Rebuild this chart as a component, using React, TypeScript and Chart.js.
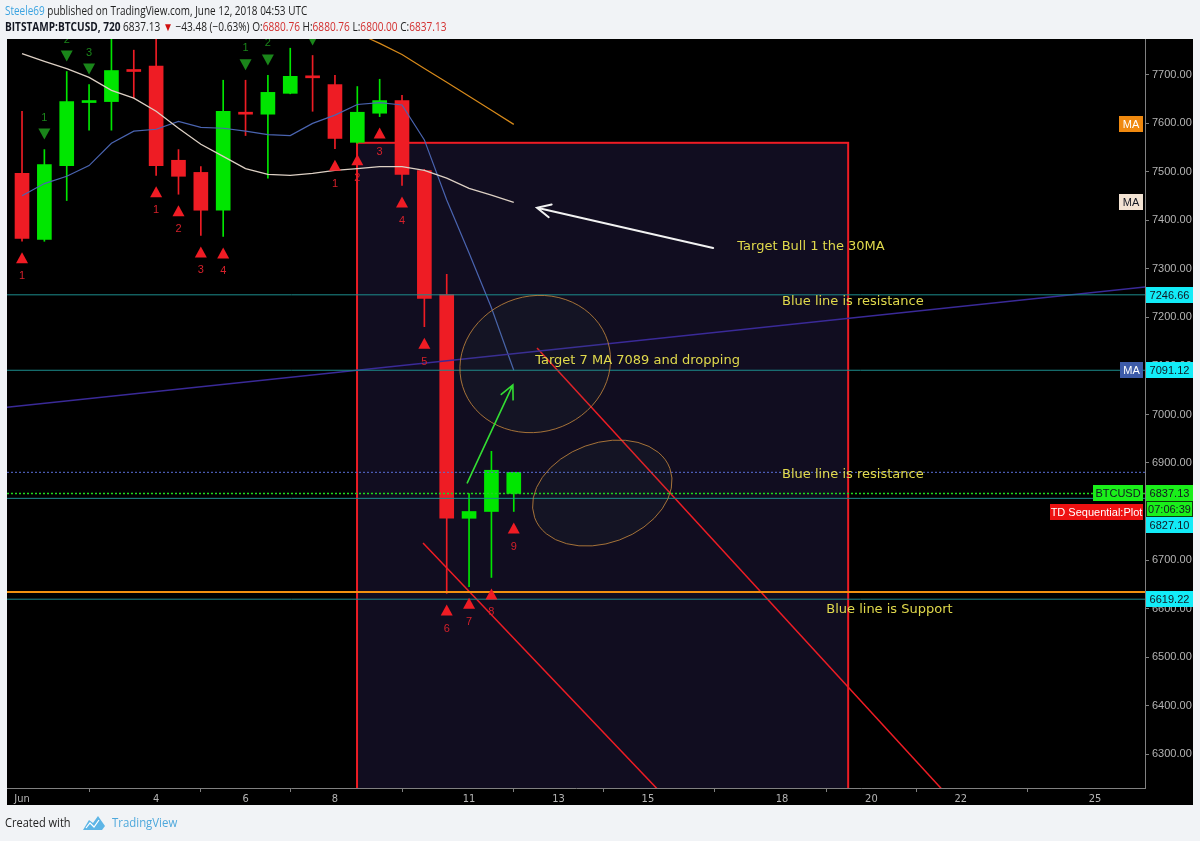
import React, { useEffect, useRef } from 'react';
import { Chart, registerables } from 'chart.js';

Chart.register(...registerables);

// ---- Data ----
const candleDays = [1, 1.5, 2, 2.5, 3, 3.5, 4, 4.5, 5, 5.5, 6, 6.5, 7, 7.5, 8, 8.5, 9, 9.5, 10, 10.5, 11, 11.5, 12];
const opens = [7497, 7361, 7513, 7643, 7645, 7709, 7718, 7524, 7499, 7421, 7621, 7619, 7662, 7696, 7680, 7561, 7621, 7647, 7503, 7247, 6786, 6800, 6880.76];
const highs = [7625, 7546, 7707, 7680, 7790, 7751, 7790, 7546, 7511, 7689, 7689, 7699, 7755, 7740, 7699, 7676, 7691, 7658, 7505, 7289, 6837, 6924, 6880.76];
const lows = [7357, 7357, 7441, 7586, 7586, 7652, 7493, 7454, 7369, 7367, 7575, 7487, 7661, 7625, 7548, 7559, 7614, 7472, 7181, 6631, 6645, 6664, 6800];
const closes = [7363, 7515, 7645, 7646, 7709, 7707, 7513, 7491, 7421, 7625, 7619, 7664, 7697, 7694, 7569, 7623, 7647, 7495, 7239, 6786, 6800, 6885, 6837.13];
const candleUp = [false, true, true, true, true, false, false, false, false, true, false, true, true, false, false, true, true, false, false, false, true, true, true];

const ma30 = [7744, 7728, 7713, 7695, 7668, 7652, 7625, 7590, 7557, 7532, 7507, 7495, 7493, 7497, 7503, 7507, 7511, 7511, 7503, 7487, 7466, 7452, 7437];
const ma7 = [7451, 7476, 7491, 7513, 7559, 7584, 7588, 7604, 7592, 7590, 7584, 7577, 7575, 7600, 7617, 7639, 7643, 7638, 7566, 7442, 7333, 7220, 7091.12];
const maLong = [null, null, null, null, null, null, null, null, null, null, null, null, null, null, 7812, 7786, 7765, 7742, 7713, 7685, 7656, 7627, 7598];

const buySetupIndex = [0, 6, 7, 8, 9, 14, 15, 16, 17, 18, 19, 20, 21, 22];
const buySetupCount = [1, 1, 2, 3, 4, 1, 2, 3, 4, 5, 6, 7, 8, 9];
const sellSetupIndex = [1, 2, 3, 4, 10, 11, 13];
const sellSetupCount = [1, 2, 3, 4, 1, 2, 3];

const xTickDays = [1, 4, 6, 8, 11, 13, 15, 18, 20, 22, 25];
const xTickLabels = ['Jun', '4', '6', '8', '11', '13', '15', '18', '20', '22', '25'];
const yTickValues = [6300, 6400, 6500, 6600, 6700, 6800, 6900, 7000, 7100, 7200, 7300, 7400, 7500, 7600, 7700];

const X_MIN = 0.664;
const X_MAX = 26.12;
const Y_MIN = 6230;
const Y_MAX = 7774;

const tealLevels = [7246.66, 7091.12, 6827.1, 6619.22];
const highLevel = 6880.76;
const lastPrice = 6837.13;
const supportLevel = 6634;

const trendDays = [0.664, 26.12];
const trendValues = [7015, 7263];
const channel1Days = [9.97, 15.5];
const channel1Values = [6735, 6200];
const channel2Days = [12.52, 21.85];
const channel2Values = [7137, 6200];

const boxDays = [8.494, 19.48];
const boxValues = [7560, 6200];

const ellipseDays = [12.48, 13.98];
const ellipseValues = [7104, 6838];
const ellipseRxDays = [1.7, 1.61];
const ellipseRyValues = [140, 103];
const ellipseAngles = [-0.3, -0.35];

const arrowFromDays = [16.46, 10.96];
const arrowFromValues = [7343, 6859];
const arrowToDays = [12.52, 11.98];
const arrowToValues = [7426, 7061];

const noteTexts = ['Target Bull 1 the 30MA', 'Blue line is resistance', 'Target 7 MA 7089 and dropping', 'Blue line is resistance', 'Blue line is Support'];
const noteDays = [17.0, 18.0, 12.48, 18.0, 18.99];
const noteValues = [7347, 7232, 7112, 6875, 6597];

// ---- Styles ----
const GREEN = '#00e600';
const RED = '#ee1c24';
const TEAL = '#1c8c8c';
const CYAN = '#12ecf8';
const LABEL_GREEN = '#1aef1a';
const YELLOW = '#e0d94c';

const UI_FONT = '"Open Sans", "Liberation Sans", Arial, sans-serif';
const AX_FONT = '"Liberation Sans", Arial, sans-serif';

function drawTag(ctx: CanvasRenderingContext2D, text: string, x: number, yc: number, w: number, bg: string, fg: string, border?: string) {
  const h = 16;
  ctx.fillStyle = bg;
  ctx.fillRect(x, Math.round(yc - h / 2), w, h);
  if (border) {
    ctx.strokeStyle = border;
    ctx.lineWidth = 1;
    ctx.strokeRect(x + 0.5, Math.round(yc - h / 2) + 0.5, w - 1, h - 1);
  }
  ctx.fillStyle = fg;
  ctx.font = `11px ${AX_FONT}`;
  ctx.textAlign = 'center';
  ctx.textBaseline = 'middle';
  ctx.fillText(text, x + w / 2, Math.round(yc) + 0.5);
}

function drawArrow(ctx: CanvasRenderingContext2D, x1: number, y1: number, x2: number, y2: number, color: string, width: number) {
  const ang = Math.atan2(y2 - y1, x2 - x1);
  const len = 15;
  ctx.strokeStyle = color;
  ctx.lineWidth = width;
  ctx.lineCap = 'round';
  ctx.beginPath();
  ctx.moveTo(x1, y1);
  ctx.lineTo(x2, y2);
  ctx.moveTo(x2 - len * Math.cos(ang - 0.45), y2 - len * Math.sin(ang - 0.45));
  ctx.lineTo(x2, y2);
  ctx.lineTo(x2 - len * Math.cos(ang + 0.45), y2 - len * Math.sin(ang + 0.45));
  ctx.stroke();
}

function drawRun(ctx: CanvasRenderingContext2D, parts: [string, string, boolean][], x0: number, y: number, sx: number) {
  ctx.save();
  ctx.translate(x0, y);
  ctx.scale(sx, 1);
  let x = 0;
  for (const [t, c, b] of parts) {
    ctx.font = `${b ? 'bold ' : ''}12px ${UI_FONT}`;
    ctx.fillStyle = c;
    ctx.fillText(t, x, 0);
    x += ctx.measureText(t).width;
  }
  ctx.restore();
}

const tvPlugin = {
  id: 'tvPlugin',
  beforeDraw(chart: any) {
    const { ctx, width, height, chartArea: ca } = chart;
    const xs = chart.scales.x;
    const ys = chart.scales.y;
    ctx.save();
    ctx.fillStyle = '#f1f3f6';
    ctx.fillRect(0, 0, width, height);
    ctx.fillStyle = '#000000';
    ctx.fillRect(ca.left, ca.top, ys.right - ca.left, xs.bottom - ca.top);
    ctx.restore();
  },
  beforeDatasetsDraw(chart: any) {
    const { ctx, chartArea: ca } = chart;
    const xs = chart.scales.x;
    const ys = chart.scales.y;
    ctx.save();
    ctx.beginPath();
    ctx.rect(ca.left, ca.top, ca.right - ca.left, ca.bottom - ca.top);
    ctx.clip();
    const l = xs.getPixelForValue(boxDays[0]);
    const r = xs.getPixelForValue(boxDays[1]);
    const t = ys.getPixelForValue(boxValues[0]);
    const b = ys.getPixelForValue(boxValues[1]);
    ctx.fillStyle = 'rgba(45,35,85,0.38)';
    ctx.fillRect(l, t, r - l, b - t);
    ctx.strokeStyle = '#ee1c24';
    ctx.lineWidth = 2;
    ctx.strokeRect(l, t, r - l, b - t);
    ctx.restore();
  },
  afterDatasetsDraw(chart: any) {
    const { ctx, chartArea: ca } = chart;
    const xs = chart.scales.x;
    const ys = chart.scales.y;
    ctx.save();
    ctx.beginPath();
    ctx.rect(ca.left, ca.top, ca.right - ca.left, ca.bottom - ca.top);
    ctx.clip();

    // ellipses
    for (let i = 0; i < ellipseDays.length; i++) {
      const cx = xs.getPixelForValue(ellipseDays[i]);
      const cy = ys.getPixelForValue(ellipseValues[i]);
      const rx = Math.abs(xs.getPixelForValue(ellipseDays[i] + ellipseRxDays[i]) - cx);
      const ry = Math.abs(ys.getPixelForValue(ellipseValues[i] + ellipseRyValues[i]) - cy);
      ctx.beginPath();
      ctx.ellipse(cx, cy, rx, ry, ellipseAngles[i], 0, Math.PI * 2);
      ctx.fillStyle = 'rgba(70,120,90,0.08)';
      ctx.fill();
      ctx.strokeStyle = 'rgba(190,130,60,0.85)';
      ctx.lineWidth = 1;
      ctx.stroke();
    }

    // arrows
    const arrowColors = ['#f2f2f2', '#33dd33'];
    for (let i = 0; i < arrowFromDays.length; i++) {
      drawArrow(
        ctx,
        xs.getPixelForValue(arrowFromDays[i]),
        ys.getPixelForValue(arrowFromValues[i]),
        xs.getPixelForValue(arrowToDays[i]),
        ys.getPixelForValue(arrowToValues[i]),
        arrowColors[i],
        i === 0 ? 2 : 1.6
      );
    }

    // notes
    ctx.font = '13px "DejaVu Sans", Verdana, sans-serif';
    ctx.fillStyle = YELLOW;
    ctx.textAlign = 'left';
    ctx.textBaseline = 'middle';
    for (let i = 0; i < noteTexts.length; i++) {
      ctx.fillText(noteTexts[i], xs.getPixelForValue(noteDays[i]), ys.getPixelForValue(noteValues[i]));
    }

    // TD sequential markers
    ctx.font = `11px ${AX_FONT}`;
    ctx.textAlign = 'center';
    for (let k = 0; k < buySetupIndex.length; k++) {
      const i = buySetupIndex[k];
      const x = xs.getPixelForValue(candleDays[i]);
      const yl = ys.getPixelForValue(lows[i]);
      ctx.fillStyle = '#f01c24';
      ctx.beginPath();
      ctx.moveTo(x, yl + 11);
      ctx.lineTo(x + 6, yl + 22);
      ctx.lineTo(x - 6, yl + 22);
      ctx.closePath();
      ctx.fill();
      ctx.fillStyle = '#d4202a';
      ctx.fillText(String(buySetupCount[k]), x, yl + 35);
    }
    for (let k = 0; k < sellSetupIndex.length; k++) {
      const i = sellSetupIndex[k];
      const x = xs.getPixelForValue(candleDays[i]);
      const yh = ys.getPixelForValue(highs[i]);
      ctx.fillStyle = '#1a861a';
      ctx.beginPath();
      ctx.moveTo(x - 6, yh - 21);
      ctx.lineTo(x + 6, yh - 21);
      ctx.lineTo(x, yh - 10);
      ctx.closePath();
      ctx.fill();
      ctx.fillText(String(sellSetupCount[k]), x, yh - 32);
    }
    ctx.restore();
  },
  afterDraw(chart: any) {
    const { ctx, chartArea: ca } = chart;
    const ys = chart.scales.y;
    ctx.save();
    const px = ca.right + 1;
    const pw = 47;
    const yLast = ys.getPixelForValue(lastPrice);

    // price tags
    drawTag(ctx, tealLevels[0].toFixed(2), px, ys.getPixelForValue(tealLevels[0]), pw, CYAN, '#131722');
    drawTag(ctx, tealLevels[1].toFixed(2), px, ys.getPixelForValue(tealLevels[1]), pw, CYAN, '#131722');
    drawTag(ctx, lastPrice.toFixed(2), px, yLast, pw, LABEL_GREEN, '#131722');
    drawTag(ctx, '07:06:39', px, yLast + 16, pw, LABEL_GREEN, '#131722', '#0a3a0a');
    drawTag(ctx, tealLevels[2].toFixed(2), px, yLast + 32, pw, CYAN, '#131722');
    drawTag(ctx, tealLevels[3].toFixed(2), px, ys.getPixelForValue(tealLevels[3]), pw, CYAN, '#131722');

    // series tags
    const rightEdge = ca.right - 2;
    drawTag(ctx, 'MA', rightEdge - 24, ys.getPixelForValue(maLong[maLong.length - 1] as number), 24, '#f0890f', '#ffffff');
    drawTag(ctx, 'MA', rightEdge - 24, ys.getPixelForValue(ma30[ma30.length - 1]), 24, '#f3e3d3', '#131722');
    drawTag(ctx, 'MA', rightEdge - 23, ys.getPixelForValue(ma7[ma7.length - 1]), 23, '#3d5ba8', '#ffffff');
    drawTag(ctx, 'BTCUSD', rightEdge - 50, yLast, 50, LABEL_GREEN, '#131722');
    drawTag(ctx, 'TD Sequential:Plot', rightEdge - 93, yLast + 19, 93, '#ee1111', '#ffffff');

    // header
    ctx.textBaseline = 'middle';
    ctx.textAlign = 'left';
    drawRun(ctx, [
      ['Steele69', '#3ba3e0', false],
      [' published on TradingView.com, June 12, 2018 04:53 UTC', '#222222', false],
    ], 5, 12, 0.83);
    drawRun(ctx, [
      ['BITSTAMP:BTCUSD, 720', '#131722', true],
      [' 6837.13 ', '#222222', false],
      ['▼', '#d01010', false],
      [' −43.48 (−0.63%) ', '#222222', false],
      ['O:', '#222222', false],
      ['6880.76', '#d32f2f', false],
      [' H:', '#222222', false],
      ['6880.76', '#d32f2f', false],
      [' L:', '#222222', false],
      ['6800.00', '#d32f2f', false],
      [' C:', '#222222', false],
      ['6837.13', '#d32f2f', false],
    ], 5, 28, 0.84);

    // footer
    drawRun(ctx, [['Created with', '#222222', false]], 5, 824, 0.92);
    drawRun(ctx, [['TradingView', '#4ea8dc', false]], 112, 824, 0.95);
    // logo
    ctx.fillStyle = '#5db5e6';
    ctx.beginPath();
    ctx.moveTo(83, 830);
    ctx.lineTo(89, 820);
    ctx.lineTo(93, 823);
    ctx.lineTo(98, 816);
    ctx.lineTo(105, 826);
    ctx.lineTo(102, 830);
    ctx.closePath();
    ctx.fill();
    ctx.strokeStyle = '#ffffff';
    ctx.lineWidth = 1.2;
    ctx.beginPath();
    ctx.moveTo(86, 828);
    ctx.lineTo(90, 823);
    ctx.lineTo(94, 827);
    ctx.lineTo(99, 820);
    ctx.stroke();
    ctx.restore();
  },
};

function hLine(v: number) {
  return [{ x: X_MIN, y: v }, { x: X_MAX, y: v }];
}

export default function App() {
  const ref = useRef<HTMLCanvasElement | null>(null);
  useEffect(() => {
    if (!ref.current) return;
    const candleColors = candleUp.map((u) => (u ? GREEN : RED));
    const lineBase = { type: 'line' as const, pointRadius: 0, tension: 0, borderWidth: 1, fill: false };
    const chart = new Chart(ref.current, {
      type: 'bar',
      data: {
        datasets: [
          { ...lineBase, label: 'level1', data: hLine(tealLevels[0]), borderColor: TEAL, order: 1 },
          { ...lineBase, label: 'level2', data: hLine(tealLevels[1]), borderColor: TEAL, order: 1 },
          { ...lineBase, label: 'level3', data: hLine(tealLevels[2]), borderColor: TEAL, order: 1 },
          { ...lineBase, label: 'level4', data: hLine(tealLevels[3]), borderColor: TEAL, order: 1 },
          { ...lineBase, label: 'high', data: hLine(highLevel), borderColor: '#5a6fd8', borderDash: [2, 2], order: 1 },
          { ...lineBase, label: 'last', data: hLine(lastPrice), borderColor: '#1ed81e', borderDash: [2, 2], borderWidth: 1.5, order: 1 },
          { ...lineBase, label: 'support', data: hLine(supportLevel), borderColor: '#f0900f', borderWidth: 2, order: 1 },
          { ...lineBase, label: 'trend', data: trendDays.map((d, i) => ({ x: d, y: trendValues[i] })), borderColor: '#3a2a98', borderWidth: 1.5, order: 2 },
          { ...lineBase, label: 'ch1', data: channel1Days.map((d, i) => ({ x: d, y: channel1Values[i] })), borderColor: '#ee1c24', borderWidth: 1.5, order: 2 },
          { ...lineBase, label: 'ch2', data: channel2Days.map((d, i) => ({ x: d, y: channel2Values[i] })), borderColor: '#ee1c24', borderWidth: 1.5, order: 2 },
          { ...lineBase, label: 'MA30', data: candleDays.map((d, i) => ({ x: d, y: ma30[i] })), borderColor: '#ddd0c4', borderWidth: 1.3, order: 3 },
          { ...lineBase, label: 'MA7', data: candleDays.map((d, i) => ({ x: d, y: ma7[i] })), borderColor: '#4a64b0', borderWidth: 1.2, order: 3 },
          { ...lineBase, label: 'MAlong', data: candleDays.map((d, i) => ({ x: d, y: maLong[i] })), borderColor: '#d88a1a', borderWidth: 1.2, order: 3 },
          {
            type: 'bar', label: 'body', data: candleDays.map((d, i) => ({ x: d, y: [opens[i], closes[i]] })) as any,
            backgroundColor: candleColors, barThickness: 14, minBarLength: 2, grouped: false, borderWidth: 0, order: 5,
          },
          {
            type: 'bar', label: 'wick', data: candleDays.map((d, i) => ({ x: d, y: [lows[i], highs[i]] })) as any,
            backgroundColor: candleColors, barThickness: 1, grouped: false, borderWidth: 0, order: 6,
          },
        ] as any,
      },
      options: {
        responsive: false,
        animation: false,
        layout: { padding: { left: 7, top: 39, right: 7, bottom: 36 } },
        plugins: { legend: { display: false }, tooltip: { enabled: false } },
        scales: {
          x: {
            type: 'linear',
            min: X_MIN,
            max: X_MAX,
            offset: false,
            afterBuildTicks: (s: any) => { s.ticks = xTickDays.map((v) => ({ value: v })); },
            afterFit: (s: any) => { s.height = 17; },
            ticks: {
              autoSkip: false,
              maxRotation: 0,
              padding: 1,
              color: '#b4b4b4',
              font: { size: 11, family: '"DejaVu Sans Condensed", "Liberation Sans Narrow", "Liberation Sans", sans-serif' },
              callback: (_v: any, i: number) => xTickLabels[i],
            },
            grid: { drawOnChartArea: false, tickLength: 4, color: '#808080' },
            border: { color: '#808080' },
          },
          y: {
            type: 'linear',
            position: 'right',
            min: Y_MIN,
            max: Y_MAX,
            afterBuildTicks: (s: any) => { s.ticks = yTickValues.map((v) => ({ value: v })); },
            afterFit: (s: any) => { s.width = 48; },
            ticks: {
              padding: 3,
              color: '#b4b4b4',
              font: { size: 11, family: AX_FONT },
              callback: (v: any) => Number(v).toFixed(2),
            },
            grid: { drawOnChartArea: false, tickLength: 4, color: '#808080' },
            border: { color: '#808080' },
          },
        },
      } as any,
      plugins: [tvPlugin],
    });
    return () => chart.destroy();
  }, []);

  return (
    <div style={{ position: 'fixed', left: 0, top: 0, width: 1200, height: 841 }}>
      <canvas ref={ref} width={1200} height={841} style={{ width: 1200, height: 841, display: 'block' }} />
    </div>
  );
}
